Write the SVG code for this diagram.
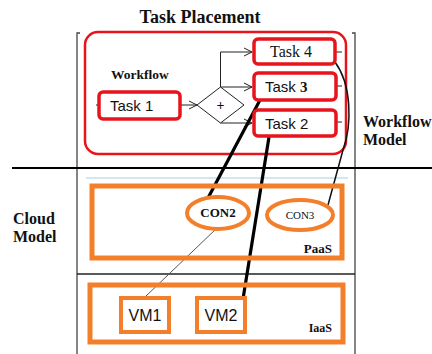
<svg xmlns="http://www.w3.org/2000/svg" width="432" height="354" viewBox="0 0 432 354">
<defs>
<marker id="ah" markerWidth="10" markerHeight="10" refX="9" refY="5" orient="auto" markerUnits="userSpaceOnUse">
<path d="M1,1 L9,5 L1,9" fill="none" stroke="#222" stroke-width="1"/>
</marker>
<style>
.serif{font-family:"Liberation Serif","DejaVu Serif",serif;fill:#111}
.b{font-weight:bold}
.sans{font-family:"Liberation Sans","DejaVu Sans",sans-serif;fill:#111}
.task{fill:#fff;stroke:#e8141b;stroke-width:3.5}
.org{fill:none;stroke:#f47f2a}
.frame{stroke:#444;stroke-width:1.3;fill:none}
.thick{stroke:#000;stroke-width:3.2;fill:none}
.flow{stroke:#222;stroke-width:1;fill:none}
</style>
</defs>
<rect width="432" height="354" fill="#fff"/>
<g id="frame">
<path class="frame" d="M80,33 H77 V354"/>
<path class="frame" d="M352,33 H355 V354"/>
<line x1="12" y1="168" x2="432" y2="168" stroke="#000" stroke-width="2"/>
<line x1="77" y1="274" x2="355" y2="274" stroke="#222" stroke-width="1.5"/>
<line x1="86" y1="178" x2="348" y2="178" stroke="#a8cdea" stroke-width="1"/>
</g>
<text class="serif b" x="200" y="23" font-size="18" text-anchor="middle">Task Placement</text>
<text class="serif b" x="363" y="127" font-size="16">Workflow</text>
<text class="serif b" x="363" y="145" font-size="16">Model</text>
<text class="serif b" x="13" y="224" font-size="16">Cloud</text>
<text class="serif b" x="13" y="242" font-size="16">Model</text>
<g id="workflow">
<rect x="85" y="32" width="261" height="122" rx="13" fill="none" stroke="#e8141b" stroke-width="2.5"/>
<text class="serif b" x="111" y="79" font-size="13.5">Workflow</text>
</g>
<g id="gateway">
<polygon points="197,105 220.5,87 244,105 220.5,123" fill="#fff" stroke="#222" stroke-width="1"/>
<text class="serif b" x="220.5" y="110" font-size="14" text-anchor="middle">+</text>
</g>
<g id="connectors">
<line class="flow" x1="96" y1="105" x2="99" y2="105"/>
<line class="flow" x1="181" y1="105" x2="197" y2="105" marker-end="url(#ah)"/>
<path class="flow" d="M220.5,87 V52 H252" marker-end="url(#ah)"/>
<line class="flow" x1="220.5" y1="87" x2="252" y2="87" marker-end="url(#ah)"/>
<line class="flow" x1="220.5" y1="123" x2="252" y2="123" marker-end="url(#ah)"/>
<line class="flow" x1="336" y1="52" x2="342" y2="52"/>
<line class="flow" x1="336" y1="86" x2="342" y2="86"/>
<line class="flow" x1="336" y1="122" x2="342" y2="122"/>
<path d="M335,62 C352,85 352,125 343,150 L328,205" fill="none" stroke="#111" stroke-width="1.5"/>
<line class="thick" x1="260" y1="100" x2="208" y2="198"/>
<line class="thick" x1="269" y1="137" x2="243" y2="299"/>
<line x1="217" y1="228" x2="145" y2="297" stroke="#555" stroke-width="1"/>
</g>
<g id="task1">
<rect class="task" x="99" y="92" width="81" height="27" rx="4"/>
<text class="sans" x="110" y="111" font-size="15">Task 1</text>
</g>
<g id="task4">
<rect class="task" x="254" y="39" width="81" height="25" rx="4"/>
<text class="serif" x="291" y="57" font-size="16" text-anchor="middle">Task 4</text>
</g>
<g id="task3">
<rect class="task" x="254" y="73" width="82" height="27" rx="4"/>
<text class="sans" x="265" y="92" font-size="15">Task <tspan class="serif b">3</tspan></text>
</g>
<g id="task2">
<rect class="task" x="254" y="110" width="82" height="26" rx="4"/>
<text class="sans" x="265" y="129" font-size="15">Task 2</text>
</g>
<g id="paas">
<rect class="org" x="92" y="186" width="250" height="72" stroke-width="5"/>
<text class="serif b" x="332" y="253" font-size="13" text-anchor="end">PaaS</text>
</g>
<g id="con2">
<ellipse class="org" cx="218" cy="213" rx="31" ry="16" stroke-width="4" fill="#fff"/>
<text class="serif b" x="218" y="217" font-size="13" text-anchor="middle">CON2</text>
</g>
<g id="con3">
<ellipse class="org" cx="300" cy="215" rx="33" ry="15" stroke-width="4" fill="#fff"/>
<text class="serif" x="300" y="219" font-size="11" text-anchor="middle">CON3</text>
</g>
<g id="iaas">
<rect class="org" x="90" y="285" width="253" height="57" stroke-width="5"/>
<text class="serif b" x="332" y="332" font-size="12" text-anchor="end">IaaS</text>
</g>
<g id="vm1">
<rect class="org" x="121" y="298" width="48" height="34" stroke-width="4" fill="#fff"/>
<text class="sans" x="145" y="321" font-size="16" text-anchor="middle">VM1</text>
</g>
<g id="vm2">
<rect class="org" x="197" y="298" width="48" height="34" stroke-width="4" fill="#fff"/>
<text class="sans" x="221" y="321" font-size="16" text-anchor="middle">VM2</text>
</g>
</svg>
